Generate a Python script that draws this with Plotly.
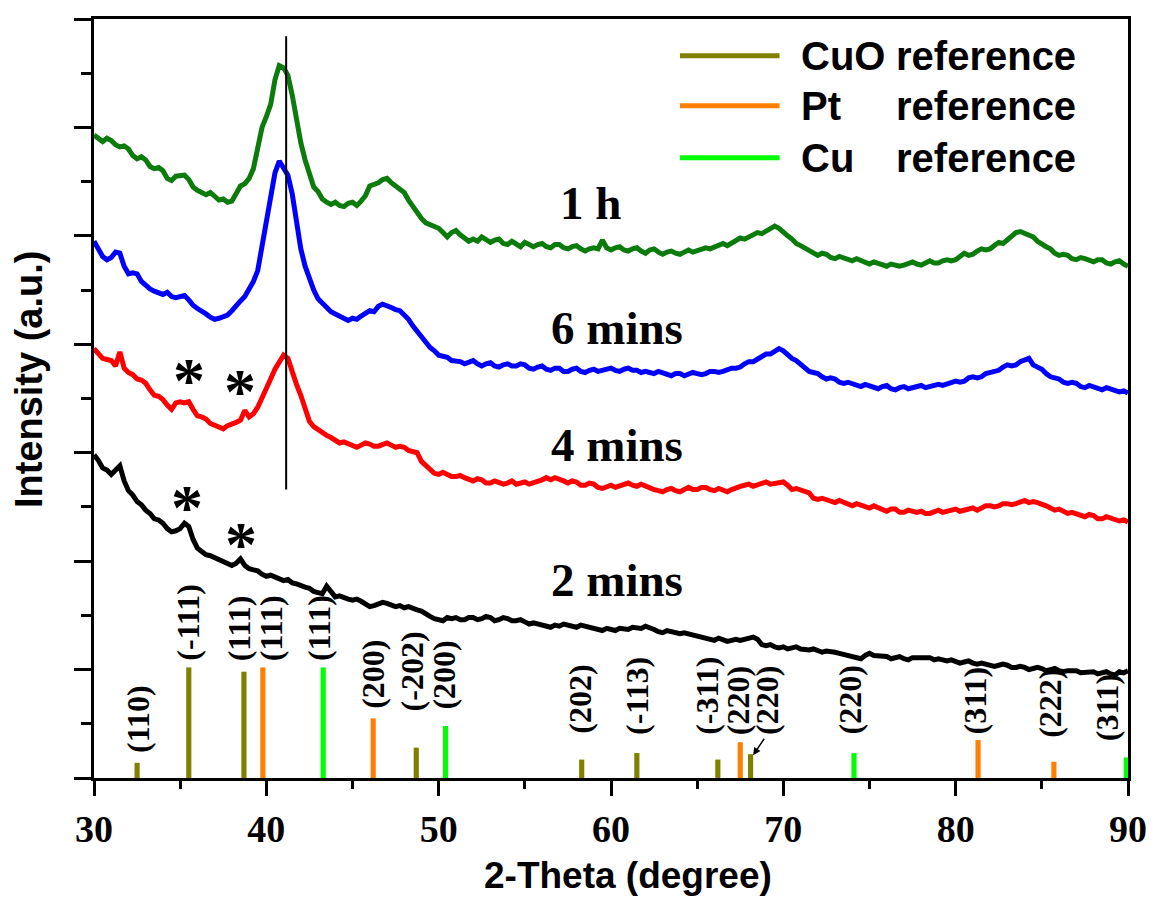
import plotly.graph_objects as go

# ---------------- data ----------------
two_theta = [30 + 0.25 * i for i in range(241)]

int_1h = [
    5.93, 5.90, 5.87, 5.90, 5.88, 5.84, 5.82, 5.83, 5.80, 5.74, 5.71, 5.73, 5.70, 5.64, 5.62, 5.63, 5.60, 5.53, 5.51, 5.55,
    5.55, 5.56, 5.52, 5.45, 5.42, 5.40, 5.38, 5.40, 5.37, 5.33, 5.34, 5.31, 5.32, 5.38, 5.46, 5.48, 5.53, 5.62, 5.82, 6.00,
    6.10, 6.21, 6.44, 6.57, 6.55, 6.48, 6.30, 6.05, 5.86, 5.70, 5.57, 5.45, 5.41, 5.34, 5.31, 5.29, 5.31, 5.28, 5.27, 5.30,
    5.31, 5.28, 5.32, 5.37, 5.46, 5.47, 5.49, 5.52, 5.53, 5.49, 5.46, 5.44, 5.40, 5.33, 5.27, 5.21, 5.16, 5.12, 5.10, 5.09,
    5.07, 5.03, 4.99, 5.03, 5.05, 5.01, 4.98, 4.95, 4.97, 4.95, 4.99, 4.96, 4.94, 4.96, 4.97, 4.93, 4.92, 4.95, 4.92, 4.90,
    4.94, 4.92, 4.90, 4.92, 4.93, 4.90, 4.89, 4.92, 4.92, 4.89, 4.88, 4.90, 4.91, 4.88, 4.86, 4.88, 4.89, 4.88, 4.96, 4.89,
    4.87, 4.89, 4.90, 4.87, 4.86, 4.88, 4.89, 4.86, 4.84, 4.87, 4.88, 4.85, 4.83, 4.85, 4.86, 4.84, 4.83, 4.85, 4.87, 4.85,
    4.86, 4.88, 4.89, 4.88, 4.90, 4.92, 4.93, 4.91, 4.93, 4.96, 4.98, 4.97, 4.99, 5.02, 5.03, 5.02, 5.04, 5.07, 5.09, 5.07,
    5.03, 5.00, 4.97, 4.93, 4.91, 4.89, 4.87, 4.84, 4.82, 4.84, 4.83, 4.80, 4.79, 4.81, 4.80, 4.78, 4.77, 4.79, 4.77, 4.75,
    4.74, 4.76, 4.75, 4.73, 4.72, 4.74, 4.73, 4.72, 4.73, 4.75, 4.76, 4.74, 4.73, 4.75, 4.77, 4.75, 4.75, 4.77, 4.78, 4.77,
    4.78, 4.81, 4.84, 4.82, 4.83, 4.86, 4.88, 4.87, 4.88, 4.91, 4.94, 4.93, 4.96, 5.00, 5.03, 5.04, 5.02, 5.01, 4.99, 4.95,
    4.92, 4.90, 4.88, 4.84, 4.82, 4.83, 4.82, 4.79, 4.78, 4.80, 4.79, 4.77, 4.76, 4.78, 4.78, 4.75, 4.74, 4.76, 4.77, 4.74,
    4.72,
]

int_6min = [
    4.95, 4.88, 4.81, 4.78, 4.80, 4.85, 4.84, 4.72, 4.65, 4.66, 4.65, 4.58, 4.54, 4.51, 4.49, 4.47, 4.46, 4.48, 4.44, 4.43,
    4.44, 4.45, 4.41, 4.36, 4.33, 4.31, 4.28, 4.25, 4.23, 4.24, 4.26, 4.27, 4.31, 4.36, 4.40, 4.44, 4.51, 4.58, 4.68, 4.90,
    5.10, 5.30, 5.58, 5.69, 5.62, 5.56, 5.39, 5.15, 4.88, 4.72, 4.60, 4.50, 4.42, 4.38, 4.33, 4.30, 4.28, 4.26, 4.24, 4.22,
    4.24, 4.23, 4.26, 4.28, 4.31, 4.30, 4.35, 4.37, 4.36, 4.34, 4.32, 4.31, 4.27, 4.23, 4.17, 4.12, 4.06, 4.01, 3.97, 3.94,
    3.90, 3.89, 3.88, 3.85, 3.85, 3.84, 3.82, 3.84, 3.85, 3.82, 3.80, 3.82, 3.83, 3.80, 3.79, 3.81, 3.82, 3.80, 3.80, 3.82,
    3.81, 3.78, 3.77, 3.79, 3.80, 3.77, 3.76, 3.78, 3.78, 3.75, 3.75, 3.77, 3.78, 3.75, 3.74, 3.76, 3.77, 3.75, 3.76, 3.78,
    3.78, 3.76, 3.75, 3.77, 3.78, 3.76, 3.76, 3.74, 3.75, 3.74, 3.73, 3.75, 3.74, 3.72, 3.71, 3.73, 3.73, 3.71, 3.72, 3.74,
    3.73, 3.72, 3.73, 3.75, 3.75, 3.74, 3.75, 3.77, 3.78, 3.78, 3.79, 3.82, 3.84, 3.84, 3.86, 3.89, 3.91, 3.91, 3.93, 3.96,
    3.94, 3.90, 3.87, 3.85, 3.82, 3.78, 3.75, 3.74, 3.73, 3.70, 3.68, 3.69, 3.68, 3.65, 3.64, 3.65, 3.64, 3.62, 3.61, 3.63,
    3.62, 3.60, 3.59, 3.61, 3.62, 3.59, 3.58, 3.60, 3.61, 3.59, 3.60, 3.62, 3.62, 3.60, 3.61, 3.63, 3.63, 3.62, 3.63, 3.65,
    3.66, 3.65, 3.66, 3.69, 3.70, 3.69, 3.70, 3.73, 3.74, 3.74, 3.76, 3.79, 3.81, 3.80, 3.81, 3.84, 3.85, 3.87, 3.81, 3.79,
    3.77, 3.73, 3.70, 3.69, 3.68, 3.65, 3.64, 3.65, 3.64, 3.61, 3.60, 3.62, 3.61, 3.59, 3.58, 3.60, 3.59, 3.57, 3.56, 3.57,
    3.55,
]

int_4min = [
    3.96, 3.92, 3.87, 3.86, 3.85, 3.80, 3.93, 3.78, 3.74, 3.72, 3.68, 3.67, 3.64, 3.58, 3.53, 3.52, 3.49, 3.44, 3.40, 3.46,
    3.47, 3.46, 3.47, 3.40, 3.34, 3.33, 3.31, 3.27, 3.25, 3.24, 3.22, 3.25, 3.26, 3.28, 3.30, 3.39, 3.33, 3.36, 3.42, 3.50,
    3.60, 3.68, 3.77, 3.83, 3.90, 3.87, 3.74, 3.63, 3.53, 3.42, 3.29, 3.24, 3.21, 3.18, 3.16, 3.14, 3.12, 3.09, 3.10, 3.08,
    3.07, 3.05, 3.07, 3.09, 3.08, 3.06, 3.06, 3.08, 3.09, 3.07, 3.05, 3.06, 3.05, 3.02, 3.01, 3.00, 2.92, 2.88, 2.85, 2.81,
    2.80, 2.82, 2.80, 2.78, 2.78, 2.79, 2.77, 2.75, 2.74, 2.76, 2.75, 2.72, 2.72, 2.74, 2.73, 2.71, 2.72, 2.74, 2.71, 2.72,
    2.73, 2.71, 2.72, 2.74, 2.75, 2.77, 2.75, 2.77, 2.76, 2.74, 2.72, 2.74, 2.73, 2.70, 2.70, 2.72, 2.71, 2.68, 2.67, 2.69,
    2.70, 2.68, 2.69, 2.71, 2.72, 2.70, 2.69, 2.71, 2.69, 2.67, 2.66, 2.65, 2.64, 2.66, 2.67, 2.65, 2.64, 2.66, 2.68, 2.66,
    2.66, 2.68, 2.68, 2.66, 2.65, 2.67, 2.66, 2.64, 2.66, 2.68, 2.69, 2.70, 2.71, 2.69, 2.70, 2.72, 2.73, 2.71, 2.72, 2.73,
    2.73, 2.70, 2.66, 2.67, 2.66, 2.64, 2.63, 2.58, 2.57, 2.58, 2.57, 2.55, 2.54, 2.56, 2.54, 2.52, 2.51, 2.53, 2.52, 2.50,
    2.49, 2.51, 2.49, 2.47, 2.46, 2.48, 2.48, 2.45, 2.45, 2.47, 2.46, 2.45, 2.46, 2.44, 2.44, 2.46, 2.47, 2.45, 2.46, 2.48,
    2.48, 2.46, 2.47, 2.49, 2.49, 2.47, 2.49, 2.51, 2.51, 2.50, 2.51, 2.53, 2.53, 2.52, 2.53, 2.55, 2.56, 2.54, 2.55, 2.54,
    2.53, 2.51, 2.49, 2.47, 2.48, 2.46, 2.44, 2.45, 2.44, 2.42, 2.41, 2.43, 2.42, 2.39, 2.39, 2.41, 2.40, 2.38, 2.37, 2.38,
    2.36,
]

int_2min = [
    2.98, 2.93, 2.86, 2.84, 2.80, 2.84, 2.88, 2.74, 2.65, 2.61, 2.55, 2.52, 2.47, 2.44, 2.39, 2.38, 2.35, 2.30, 2.27, 2.28,
    2.30, 2.35, 2.32, 2.20, 2.12, 2.09, 2.06, 2.05, 2.03, 2.01, 1.99, 1.97, 1.96, 1.98, 2.02, 1.96, 1.93, 1.92, 1.91, 1.88,
    1.86, 1.87, 1.85, 1.83, 1.82, 1.83, 1.80, 1.79, 1.77, 1.76, 1.75, 1.72, 1.71, 1.70, 1.77, 1.72, 1.67, 1.68, 1.66, 1.65,
    1.64, 1.65, 1.63, 1.60, 1.58, 1.59, 1.60, 1.62, 1.61, 1.59, 1.58, 1.59, 1.57, 1.58, 1.56, 1.55, 1.54, 1.51, 1.49, 1.47,
    1.46, 1.45, 1.48, 1.47, 1.48, 1.46, 1.46, 1.48, 1.48, 1.46, 1.47, 1.49, 1.48, 1.45, 1.46, 1.48, 1.47, 1.45, 1.45, 1.46,
    1.44, 1.42, 1.43, 1.42, 1.41, 1.39, 1.39, 1.41, 1.40, 1.42, 1.41, 1.39, 1.39, 1.41, 1.40, 1.38, 1.38, 1.37, 1.36, 1.38,
    1.37, 1.36, 1.38, 1.38, 1.37, 1.39, 1.39, 1.38, 1.40, 1.39, 1.37, 1.35, 1.34, 1.36, 1.35, 1.33, 1.33, 1.34, 1.33, 1.31,
    1.31, 1.30, 1.29, 1.28, 1.27, 1.29, 1.28, 1.26, 1.27, 1.28, 1.27, 1.28, 1.29, 1.30, 1.28, 1.23, 1.22, 1.23, 1.21, 1.20,
    1.21, 1.19, 1.20, 1.21, 1.19, 1.18, 1.18, 1.19, 1.17, 1.16, 1.17, 1.17, 1.16, 1.15, 1.14, 1.13, 1.12, 1.11, 1.10, 1.13,
    1.15, 1.13, 1.13, 1.12, 1.12, 1.10, 1.11, 1.12, 1.10, 1.09, 1.11, 1.11, 1.10, 1.11, 1.11, 1.09, 1.10, 1.09, 1.08, 1.09,
    1.08, 1.06, 1.07, 1.08, 1.06, 1.05, 1.06, 1.05, 1.05, 1.03, 1.04, 1.05, 1.04, 1.02, 1.02, 1.03, 1.02, 1.00, 1.01, 1.02,
    1.01, 0.99, 1.00, 1.01, 0.99, 0.98, 0.99, 0.99, 0.99, 0.97, 0.97, 0.98, 0.98, 0.96, 0.97, 0.98, 0.96, 0.95, 0.98, 0.97,
    0.99,
]

cuo_pos = [32.5, 35.5, 38.7, 48.7, 58.3, 61.5, 66.2, 68.1]
cuo_height = [0.14, 1.02, 0.98, 0.28, 0.17, 0.23, 0.17, 0.22]
cuo_hkl = ["(110)", "(-111)", "(111)", "(-202)", "(202)", "(-113)", "(-311)", "(220)"]

pt_pos = [39.8, 46.2, 67.5, 81.3, 85.7]
pt_height = [1.02, 0.55, 0.33, 0.35, 0.15]
pt_hkl = ["(111)", "(200)", "(220)", "(311)", "(222)"]

cu_pos = [43.3, 50.4, 74.1, 89.9]
cu_height = [1.02, 0.48, 0.23, 0.19]
cu_hkl = ["(111)", "(200)", "(220)", "(311)"]

curve_names = ["1 h", "6 mins", "4 mins", "2 mins"]
x_ticks = [30, 40, 50, 60, 70, 80, 90]

# ---------------- layout helpers (positions / styles) ----------------
cuo_lab_x = [32.54, 35.43, 38.43, 48.42, 58.23, 61.52, 65.57, 69.09]
cuo_lab_y = [0.21, 1.06, 1.06, 0.60, 0.39, 0.38, 0.38, 0.38]
pt_lab_x = [40.28, 46.22, 67.36, 81.10, 85.43]
pt_lab_y = [1.06, 0.62, 0.38, 0.38, 0.35]
cu_lab_x = [43.05, 50.32, 73.88, 88.78]
cu_lab_y = [1.06, 0.61, 0.38, 0.32]

C_CUO = "#808000"
C_PT = "#ff8000"
C_CU = "#00ff00"
curve_colors = ["#0b7b0b", "#0000ff", "#ff0000", "#000000"]
SERIF = "Liberation Serif"
SANS = "Liberation Sans"

fig = go.Figure()

for ys, col, nm in zip([int_1h, int_6min, int_4min, int_2min], curve_colors, curve_names):
    fig.add_trace(go.Scatter(x=two_theta, y=ys, mode="lines", name=nm,
                             line=dict(color=col, width=5), showlegend=False))

for pos, h, col, nm in [(cuo_pos, cuo_height, C_CUO, "CuO reference"),
                        (pt_pos, pt_height, C_PT, "Pt reference"),
                        (cu_pos, cu_height, C_CU, "Cu reference")]:
    fig.add_trace(go.Bar(x=pos, y=h, width=0.3, marker=dict(color=col, line=dict(width=0)),
                         name=nm, showlegend=False))

annotations = []
hkl_font = dict(family=SERIF, size=32, color="black", weight="bold")
for labs, lx, ly in [(cuo_hkl, cuo_lab_x, cuo_lab_y), (pt_hkl, pt_lab_x, pt_lab_y),
                     (cu_hkl, cu_lab_x, cu_lab_y)]:
    for t, x, y in zip(labs, lx, ly):
        annotations.append(dict(x=x, y=y, text=t, textangle=-90, showarrow=False,
                                xanchor="center", yanchor="bottom", font=hkl_font))

# small arrow pointing to CuO (220)
annotations.append(dict(x=68.25, y=0.21, ax=12, ay=-18, text="", showarrow=True,
                        arrowhead=2, arrowsize=1, arrowwidth=1.5, arrowcolor="black"))

# curve labels
lab_font = dict(family=SERIF, size=47, color="black", weight="bold")
for t, x, y in zip(curve_names, [56.9, 56.4, 56.4, 56.4], [5.30, 4.15, 3.07, 1.83]):
    annotations.append(dict(x=x, y=y, text=t, showarrow=False, xanchor="left",
                            yanchor="middle", font=lab_font))

# asterisks
for x, y in [(35.49, 3.72), (38.49, 3.62), (35.37, 2.55), (38.55, 2.21)]:
    annotations.append(dict(x=x, y=y, text="*", showarrow=False, xanchor="center",
                            yanchor="middle", yshift=-6,
                            font=dict(family=SERIF, size=64, color="black", weight="bold")))

# custom legend
leg_font = dict(family=SANS, size=40, color="black", weight="bold")
shapes = []
for (first, col), y in zip([("CuO", C_CUO), ("Pt", C_PT), ("Cu", C_CU)], [6.66, 6.20, 5.72]):
    shapes.append(dict(type="line", xref="x", yref="y", x0=64.0, x1=69.78, y0=y, y1=y,
                       line=dict(color=col, width=5)))
    annotations.append(dict(x=70.88, y=y, text=first, showarrow=False, xanchor="left",
                            yanchor="middle", font=leg_font))
    annotations.append(dict(x=76.42, y=y, text="reference", showarrow=False, xanchor="left",
                            yanchor="middle", font=leg_font))

# vertical guide line
shapes.append(dict(type="line", xref="x", yref="y", x0=41.15, x1=41.15, y0=2.66, y1=6.84,
                   line=dict(color="black", width=2)))

# axis titles
annotations.append(dict(xref="paper", yref="paper", x=0.516, y=-0.129, text="2-Theta (degree)",
                        showarrow=False, xanchor="center", yanchor="middle",
                        font=dict(family=SANS, size=37, color="black", weight="bold")))
annotations.append(dict(xref="paper", yref="paper", x=-0.0635, y=0.526, text="Intensity (a.u.)",
                        textangle=-90, showarrow=False, xanchor="center", yanchor="middle",
                        font=dict(family=SANS, size=38, color="black", weight="bold")))

# the page body keeps its default 8 px margin, so the figure is 8 px smaller
fig.update_layout(
    width=1147, height=889, autosize=False,
    margin=dict(l=86, r=22, t=8, b=119),
    paper_bgcolor="white", plot_bgcolor="white",
    barmode="overlay", showlegend=False,
    annotations=annotations, shapes=shapes,
    xaxis=dict(range=[30, 90], tickvals=x_ticks, ticktext=[str(v) for v in x_ticks],
               showline=True, linewidth=3, linecolor="black", mirror=True,
               ticks="outside", ticklen=15, tickwidth=3, tickcolor="black",
               minor=dict(ticks="outside", ticklen=8, tickwidth=3, tickcolor="black", dtick=5,
                          tick0=30, showgrid=False),
               showgrid=False, zeroline=False,
               tickfont=dict(family=SERIF, size=38, color="black", weight="bold")),
    yaxis=dict(range=[0, 7], dtick=1, tick0=0, showticklabels=False,
               showline=True, linewidth=3, linecolor="black", mirror=True,
               ticks="outside", ticklen=17, tickwidth=3, tickcolor="black",
               minor=dict(ticks="outside", ticklen=10, tickwidth=3, tickcolor="black",
                          dtick=0.5, tick0=0, showgrid=False),
               showgrid=False, zeroline=False),
)

fig.write_html("out.html", config={"displayModeBar": False})
